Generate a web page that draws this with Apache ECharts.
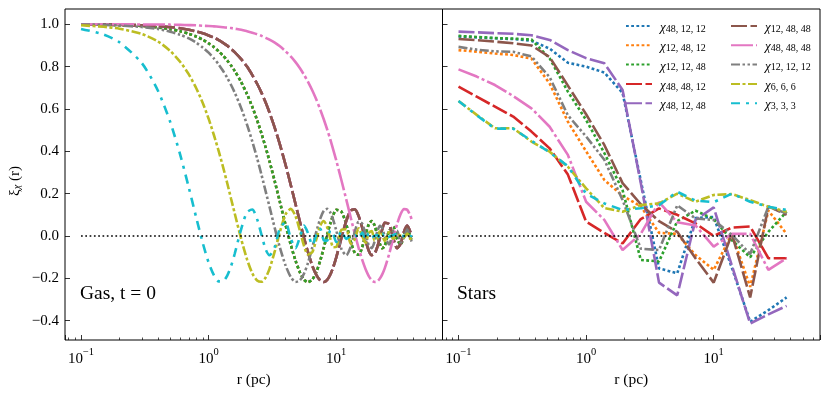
<!DOCTYPE html>
<html>
<head>
<meta charset="utf-8">
<script src="https://cdn.jsdelivr.net/npm/echarts@6.0.0/dist/echarts.min.js"></script>
<style>
html, body { margin: 0; padding: 0; background: #fff; }
#chart { width: 830px; height: 393px; }
</style>
</head>
<body>
<div id="chart"></div>
<script>
// ---- gas panel (t = 0), radius in pc ----
let gasR = [0.1, 0.15, 0.2, 0.3, 0.4, 0.5, 0.6, 0.7, 0.8, 0.9, 1.0, 1.1, 1.2, 1.3, 1.4, 1.5, 1.6, 1.8, 2.0, 2.2,
    2.4, 2.6, 2.8, 3.0, 3.3, 3.6, 4.0, 4.4, 4.8, 5.2, 5.6, 6.0, 6.5, 7.0, 7.5, 8.0, 8.5, 9.0, 9.5, 10,
    11, 12, 13, 14, 15, 16, 17, 18, 19, 20, 21, 22, 23, 24, 26, 28, 30, 32, 34, 36, 38, 39];
// one 48 (48,12,12 / 12,48,12 / 12,12,48 sit on top of each other)
let gasOne48 = [0.999, 0.998, 0.996, 0.992, 0.985, 0.977, 0.967, 0.955, 0.942, 0.927,
    0.910, 0.892, 0.872, 0.851, 0.829, 0.805, 0.780, 0.727, 0.670, 0.610,
    0.547, 0.483, 0.418, 0.354, 0.258, 0.167, 0.055, -0.040, -0.116, -0.172,
    -0.206, -0.218, -0.205, -0.169, -0.116, -0.055, 0.007, 0.060, 0.100, 0.124,
    0.115, 0.054, -0.026, -0.080, -0.088, -0.052, 0.007, 0.055, 0.071, 0.050,
    0.005, -0.037, -0.058, -0.047, 0.025, 0.044, -0.014, -0.041, 0.007, 0.037, 0.000, -0.024];
// two 48 (48,48,12 / 48,12,48 / 12,48,48)
let gasTwo48 = [1.000, 0.999, 0.998, 0.995, 0.991, 0.987, 0.981, 0.974, 0.966, 0.957,
    0.947, 0.937, 0.925, 0.912, 0.899, 0.884, 0.868, 0.835, 0.800, 0.760,
    0.719, 0.676, 0.630, 0.583, 0.511, 0.437, 0.339, 0.242, 0.151, 0.066,
    -0.010, -0.075, -0.141, -0.185, -0.210, -0.217, -0.207, -0.182, -0.145, -0.102,
    -0.008, 0.072, 0.120, 0.126, 0.094, 0.039, -0.021, -0.069, -0.090, -0.083,
    -0.052, -0.009, 0.034, 0.063, 0.056, -0.010, -0.057, -0.036, 0.021, 0.049, 0.021, -0.005];
let gasAll48 = [1.000, 1.000, 1.000, 0.999, 0.999, 0.998, 0.997, 0.996, 0.995, 0.993,
    0.992, 0.990, 0.988, 0.986, 0.984, 0.982, 0.979, 0.974, 0.967, 0.960,
    0.953, 0.945, 0.936, 0.927, 0.913, 0.897, 0.873, 0.848, 0.821, 0.792,
    0.761, 0.729, 0.687, 0.643, 0.597, 0.550, 0.503, 0.455, 0.406, 0.358,
    0.262, 0.172, 0.087, 0.010, -0.057, -0.113, -0.157, -0.189, -0.209, -0.217,
    -0.214, -0.201, -0.180, -0.153, -0.085, -0.010, 0.056, 0.104, 0.127, 0.124, 0.098, 0.079];
let gasAll12 = [0.999, 0.997, 0.994, 0.987, 0.978, 0.965, 0.950, 0.933, 0.913, 0.890,
    0.866, 0.839, 0.810, 0.779, 0.747, 0.713, 0.678, 0.604, 0.526, 0.447,
    0.367, 0.288, 0.211, 0.139, 0.037, -0.049, -0.137, -0.193, -0.217, -0.209,
    -0.177, -0.128, -0.053, 0.022, 0.082, 0.119, 0.128, 0.111, 0.074, 0.027,
    -0.062, -0.091, -0.050, 0.021, 0.067, 0.058, 0.007, -0.044, -0.057, -0.026,
    0.021, 0.048, 0.037, -0.001, -0.040, 0.021, 0.025, -0.030, -0.007, 0.030, -0.009, -0.026];
let gas666 = [0.995, 0.988, 0.979, 0.954, 0.919, 0.874, 0.822, 0.763, 0.698, 0.628,
    0.554, 0.477, 0.401, 0.324, 0.249, 0.176, 0.108, -0.014, -0.110, -0.176,
    -0.210, -0.216, -0.196, -0.155, -0.073, 0.014, 0.101, 0.128, 0.094, 0.024,
    -0.047, -0.087, -0.076, -0.014, 0.049, 0.071, 0.041, -0.014, -0.053, -0.052,
    0.030, 0.032, -0.037, -0.014, 0.037, -0.002, -0.032, 0.014, 0.024, -0.021,
    -0.014, 0.024, 0.003, -0.024, 0.019, -0.013, 0.006, 0.002, -0.008, 0.012, -0.014, -0.001];
let gas333 = [0.978, 0.952, 0.915, 0.816, 0.687, 0.539, 0.382, 0.228, 0.087, -0.033,
    -0.125, -0.185, -0.214, -0.213, -0.187, -0.142, -0.085, 0.033, 0.112, 0.125,
    0.080, 0.005, -0.063, -0.091, -0.052, 0.032, 0.066, -0.011, -0.058, -0.004,
    0.049, 0.015, -0.042, 0.006, 0.034, -0.020, -0.022, 0.027, 0.008, -0.028,
    0.023, -0.014, 0.004, 0.005, -0.013, 0.016, -0.016, 0.013, -0.007, 0.001,
    0.005, -0.010, 0.012, -0.011, -0.004, 0.005, 0.009, 0.006, -0.001, -0.007, -0.006, 0.004];

// ---- stars panel ----
let starR = [0.1, 0.1389, 0.1931, 0.2683, 0.3728, 0.5179, 0.7197, 1.0, 1.389, 1.931,
    2.683, 3.728, 5.179, 7.197, 10.0, 13.89, 19.31, 26.83, 37.28];
let star48_12_12 = [0.942, 0.938, 0.934, 0.930, 0.922, 0.885, 0.818, 0.800, 0.772, 0.676, 0.262, -0.153, -0.176, 0.085, 0.090, -0.150, -0.405, -0.350, -0.290];
let star12_48_12 = [0.878, 0.870, 0.862, 0.855, 0.838, 0.720, 0.540, 0.400, 0.265, 0.190, 0.140, 0.015, 0.010, -0.090, -0.160, 0.010, -0.240, 0.120, 0.010];
let star12_12_48 = [0.945, 0.940, 0.935, 0.932, 0.928, 0.839, 0.682, 0.548, 0.392, 0.217, -0.113, -0.120, 0.070, 0.120, 0.080, -0.020, -0.100, 0.020, 0.115];
let star48_48_12 = [0.705, 0.658, 0.611, 0.564, 0.493, 0.414, 0.290, 0.068, 0.015, -0.035, 0.080, 0.130, 0.100, 0.060, 0.000, 0.040, 0.045, -0.105, -0.105];
let star48_12_48 = [0.965, 0.962, 0.958, 0.955, 0.948, 0.926, 0.878, 0.840, 0.816, 0.690, 0.250, -0.220, -0.280, 0.076, 0.135, -0.140, -0.413, -0.370, -0.330];
let star12_48_48 = [0.930, 0.925, 0.918, 0.910, 0.900, 0.845, 0.710, 0.575, 0.430, 0.250, 0.150, 0.070, 0.020, -0.105, -0.220, 0.010, -0.290, 0.140, 0.100];
let star48_48_48 = [0.787, 0.753, 0.713, 0.661, 0.603, 0.516, 0.383, 0.162, 0.076, -0.066, 0.010, 0.160, 0.065, 0.050, -0.050, 0.010, 0.010, -0.160, -0.105];
let star12_12_12 = [0.893, 0.880, 0.872, 0.870, 0.848, 0.750, 0.570, 0.470, 0.360, 0.170, -0.060, -0.066, 0.145, 0.083, 0.076, 0.005, -0.085, 0.138, 0.107];
let star6_6_6 = [0.638, 0.572, 0.509, 0.509, 0.446, 0.398, 0.327, 0.225, 0.132, 0.115, 0.146, 0.154, 0.200, 0.162, 0.194, 0.198, 0.170, 0.138, 0.115];
let star3_3_3 = [0.638, 0.570, 0.507, 0.507, 0.450, 0.395, 0.330, 0.200, 0.154, 0.123, 0.131, 0.146, 0.209, 0.167, 0.160, 0.200, 0.162, 0.138, 0.123];

// dotted zero reference
let zeroR = [0.1, 39];
let zeroY = [0, 0];

let yTicks = [-0.4, -0.2, 0, 0.2, 0.4, 0.6, 0.8, 1.0];
let names = ['48, 12, 12', '12, 48, 12', '12, 12, 48', '48, 48, 12', '48, 12, 48',
    '12, 48, 48', '48, 48, 48', '12, 12, 12', '6, 6, 6', '3, 3, 3'];

let gasData = [gasOne48, gasOne48, gasOne48, gasTwo48, gasTwo48, gasTwo48, gasAll48, gasAll12, gas666, gas333];
let starData = [star48_12_12, star12_48_12, star12_12_48, star48_48_12, star48_12_48,
    star12_48_48, star48_48_48, star12_12_12, star6_6_6, star3_3_3];

// styles
let colors = ['#1f77b4', '#ff7f0e', '#2ca02c', '#d62728', '#9467bd', '#8c564b', '#e377c2', '#7f7f7f', '#bcbd22', '#17becf'];
let dotted = [2.8, 2.4];
let dashed = [16, 3.5];
let dashes = [dotted, dotted, dotted, dashed, dashed, dashed, [22, 3, 3, 3], [9, 2.5, 2.5, 2.5, 2.5, 2.5], [9, 2.5, 3, 2.5], [9, 6, 3, 6]];
let serif = '"Liberation Serif", "Times New Roman", serif';

function pairs(xs, ys) {
    let out = [];
    for (let i = 0; i < xs.length; i++) {
        out.push([xs[i], ys[i]]);
    }
    return out;
}

function curve(panel, i, xs, ys) {
    return {
        name: names[i],
        type: 'line',
        xAxisIndex: panel,
        yAxisIndex: panel,
        data: pairs(xs, ys),
        symbol: 'none',
        smooth: panel === 0 ? 0.25 : false,
        itemStyle: { color: colors[i] },
        lineStyle: { color: colors[i], width: 2.6, type: dashes[i], cap: 'butt' },
        emphasis: { disabled: true }
    };
}

function zeroLine(panel) {
    return {
        name: 'zero',
        type: 'line',
        xAxisIndex: panel,
        yAxisIndex: panel,
        data: pairs(zeroR, zeroY),
        symbol: 'none',
        z: 5,
        lineStyle: { color: '#000', width: 1.7, type: [1.7, 2.6] },
        emphasis: { disabled: true }
    };
}

function xAxis(panel) {
    return {
        gridIndex: panel,
        type: 'log',
        logBase: 10,
        min: 0.0749,
        max: 68.1,
        position: 'bottom',
        axisLine: { show: false, onZero: false },
        axisTick: { inside: true, length: 5, lineStyle: { color: '#000', width: 0.8 } },
        minorTick: { show: true, splitNumber: 9, length: 2.5, lineStyle: { color: '#000', width: 0.7 } },
        splitLine: { show: false },
        minorSplitLine: { show: false },
        axisLabel: {
            margin: 7,
            showMinLabel: false,
            showMaxLabel: false,
            formatter: function (v) {
                let e = Math.round(Math.log10(v));
                let s = e < 0 ? '\u2212' + (-e) : '' + e;
                return '{b|10}{e|' + s + '}';
            },
            rich: {
                b: { fontFamily: serif, fontSize: 15, color: '#000', lineHeight: 20, verticalAlign: 'bottom' },
                e: { fontFamily: serif, fontSize: 10.5, color: '#000', lineHeight: 9, verticalAlign: 'top' }
            }
        },
        name: 'r (pc)',
        nameLocation: 'middle',
        nameGap: 24,
        nameTextStyle: { fontFamily: serif, fontSize: 15.5, color: '#000' }
    };
}

function yAxis(panel) {
    return {
        gridIndex: panel,
        type: 'value',
        min: -0.491,
        max: 1.072,
        position: 'left',
        axisLine: { show: false, onZero: false },
        splitLine: { show: false },
        axisTick: { inside: true, length: 5, customValues: yTicks, lineStyle: { color: '#000', width: 0.8 } },
        axisLabel: {
            show: panel === 0,
            customValues: yTicks,
            margin: 6,
            fontFamily: serif,
            fontSize: 15,
            color: '#000',
            formatter: function (v) {
                return v.toFixed(1).replace('-', '\u2212');
            }
        }
    };
}

let legendStyle = {
    orient: 'vertical',
    padding: 0,
    itemWidth: 26,
    itemHeight: 12,
    itemGap: 6.3,
    top: 21,
    selectedMode: false,
    itemStyle: { opacity: 0 },
    formatter: function (name) {
        return '{c|\u03c7}{n|' + name + '}';
    },
    textStyle: {
        padding: [0, 0, 0, 3],
        rich: {
            c: { fontFamily: serif, fontStyle: 'italic', fontSize: 13, color: '#000', lineHeight: 16, verticalAlign: 'bottom' },
            n: { fontFamily: serif, fontSize: 10, color: '#000', lineHeight: 11, verticalAlign: 'bottom' }
        }
    }
};

let series = [];
for (let i = 0; i < 10; i++) series.push(curve(0, i, gasR, gasData[i]));
series.push(zeroLine(0));
for (let i = 0; i < 10; i++) series.push(curve(1, i, starR, starData[i]));
series.push(zeroLine(1));

let myChart = echarts.init(document.getElementById('chart'), null, { renderer: 'canvas' });
myChart.setOption({
    animation: false,
    backgroundColor: '#fff',
    grid: [
        { left: 65, top: 9, width: 377.5, height: 331, show: true, borderColor: '#000', borderWidth: 1, backgroundColor: 'transparent' },
        { left: 442.5, top: 9, width: 377.5, height: 331, show: true, borderColor: '#000', borderWidth: 1, backgroundColor: 'transparent' }
    ],
    xAxis: [xAxis(0), xAxis(1)],
    yAxis: [yAxis(0), yAxis(1)],
    legend: [
        Object.assign({}, legendStyle, { left: 625, data: names.slice(0, 5) }),
        Object.assign({}, legendStyle, { left: 730, data: names.slice(5) })
    ],
    graphic: [
        {
            type: 'text', x: 14, y: 181, rotation: Math.PI / 2,
            style: {
                text: '{a|\u03be}{b|\u03c7}{a| (r)}',
                align: 'center', verticalAlign: 'middle',
                rich: {
                    a: { fontFamily: serif, fontSize: 15, fill: '#000', lineHeight: 18, verticalAlign: 'bottom' },
                    b: { fontFamily: serif, fontStyle: 'italic', fontSize: 10.5, fill: '#000', lineHeight: 10, verticalAlign: 'bottom' }
                }
            }
        },
        { type: 'text', x: 80, y: 294, style: { text: 'Gas, t = 0', font: '19.5px ' + serif, fill: '#000', verticalAlign: 'middle' } },
        { type: 'text', x: 457, y: 294, style: { text: 'Stars', font: '19.5px ' + serif, fill: '#000', verticalAlign: 'middle' } }
    ],
    series: series
});
</script>
</body>
</html>
